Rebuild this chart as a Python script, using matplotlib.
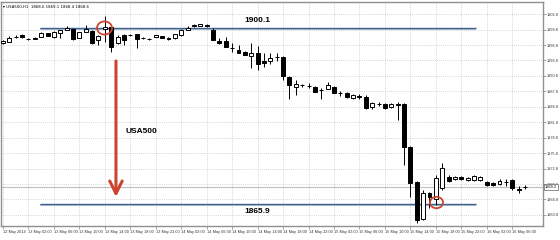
import numpy as np
import matplotlib
matplotlib.use("Agg")
import matplotlib.pyplot as plt
from matplotlib.patches import Ellipse

plt.rcParams['font.family'] = ['Liberation Sans', 'DejaVu Sans']

# hourly candles, USA500 H1, 12 May 22:00 .. 16 May 08:00
opens = [1897.2, 1897.4, 1898.3, 1898.7, 1898.0, 1897.9, 1898.4, 1899.1, 1898.4, 1899.1,
         1899.8, 1900.0, 1898.2, 1899.4, 1899.6, 1897.7, 1900.0, 1900.3, 1897.1, 1898.7,
         1898.7, 1898.9, 1898.1, 1898.0, 1898.4, 1898.5, 1897.9, 1898.1, 1898.7, 1899.8,
         1900.7, 1900.5, 1900.7, 1899.8, 1897.6, 1897.6, 1896.3, 1895.8, 1895.5, 1894.7,
         1895.2, 1893.6, 1893.7, 1894.5, 1894.5, 1890.6, 1888.6, 1889.0, 1888.9, 1888.7,
         1888.1, 1888.2, 1888.7, 1887.4, 1887.5, 1886.5, 1886.9, 1886.8, 1884.7, 1885.3,
         1885.3, 1884.8, 1885.4, 1885.3, 1877.0, 1870.2, 1863.0, 1868.1, 1866.9, 1869.0,
         1871.2, 1870.8, 1871.2, 1870.6, 1870.6, 1870.6, 1870.2, 1870.0, 1869.8, 1870.2,
         1870.6, 1868.6, 1869.2]
highs = [1897.8, 1898.5, 1898.7, 1898.9, 1898.2, 1898.3, 1899.3, 1899.2, 1899.5, 1899.8,
         1900.4, 1900.2, 1899.4, 1900.7, 1899.8, 1898.7, 1902.4, 1900.5, 1898.7, 1898.9,
         1898.9, 1899.0, 1898.3, 1898.1, 1898.8, 1898.6, 1898.3, 1899.0, 1899.9, 1900.5,
         1900.9, 1900.9, 1900.8, 1900.1, 1898.1, 1898.3, 1897.1, 1896.8, 1895.6, 1897.1,
         1896.6, 1895.2, 1895.2, 1895.2, 1894.7, 1890.8, 1890.0, 1889.2, 1889.4, 1888.8,
         1888.5, 1889.7, 1888.8, 1887.9, 1887.6, 1887.2, 1887.2, 1887.0, 1885.7, 1885.7,
         1885.5, 1885.6, 1885.7, 1885.5, 1877.2, 1870.4, 1868.6, 1868.3, 1871.6, 1873.9,
         1871.6, 1871.4, 1871.4, 1871.2, 1871.6, 1871.4, 1870.4, 1870.2, 1870.8, 1870.8,
         1870.8, 1869.4, 1869.6]
lows = [1897.0, 1897.4, 1898.2, 1898.2, 1897.8, 1897.9, 1898.3, 1898.5, 1898.2, 1898.1,
        1899.7, 1897.8, 1898.2, 1899.3, 1897.0, 1896.8, 1897.3, 1895.5, 1897.0, 1896.8,
        1898.5, 1896.2, 1898.0, 1897.8, 1898.3, 1898.1, 1897.8, 1898.0, 1898.6, 1899.8,
        1900.3, 1900.4, 1900.3, 1897.7, 1896.9, 1896.4, 1895.5, 1895.2, 1894.9, 1892.3,
        1891.9, 1892.5, 1893.2, 1893.7, 1890.0, 1886.4, 1887.1, 1888.7, 1888.4, 1887.7,
        1886.3, 1888.2, 1887.4, 1886.9, 1886.5, 1886.3, 1886.4, 1884.3, 1884.4, 1884.9,
        1884.3, 1884.5, 1882.2, 1873.5, 1867.3, 1862.2, 1862.8, 1865.1, 1865.7, 1868.6,
        1870.2, 1870.6, 1870.6, 1870.4, 1870.4, 1870.4, 1869.4, 1869.4, 1869.6, 1869.4,
        1868.6, 1868.1, 1868.8]
closes = [1897.6, 1898.2, 1898.4, 1898.3, 1897.9, 1898.2, 1899.2, 1898.6, 1899.3, 1899.7,
          1900.2, 1897.9, 1899.3, 1899.9, 1897.1, 1898.6, 1900.3, 1896.5, 1898.4, 1897.8,
          1898.7, 1897.9, 1898.2, 1897.9, 1898.7, 1898.1, 1898.2, 1898.9, 1899.7, 1900.2,
          1900.4, 1900.8, 1900.4, 1897.8, 1897.2, 1896.5, 1896.2, 1895.2, 1894.9, 1895.2,
          1893.2, 1893.4, 1894.2, 1894.4, 1890.8, 1889.0, 1889.2, 1889.0, 1888.8, 1887.7,
          1888.0, 1889.0, 1887.4, 1887.5, 1886.7, 1887.0, 1886.8, 1884.6, 1885.5, 1885.3,
          1884.6, 1885.4, 1885.2, 1877.0, 1870.0, 1862.8, 1868.1, 1867.3, 1871.0, 1872.9,
          1870.4, 1871.2, 1870.8, 1871.0, 1871.4, 1871.2, 1869.6, 1869.6, 1870.4, 1870.1,
          1869.0, 1868.8, 1869.2]

time_labels = ["12 May 2014", "13 May 02:00", "13 May 06:00", "13 May 10:00", "13 May 14:00",
               "13 May 18:00", "13 May 22:00", "14 May 02:00", "14 May 06:00", "14 May 10:00",
               "14 May 14:00", "14 May 18:00", "14 May 22:00", "15 May 02:00", "15 May 06:00",
               "15 May 10:00", "15 May 14:00", "15 May 18:00", "15 May 22:00", "16 May 02:00",
               "16 May 06:00"]
price_ticks = [1902.8, 1899.8, 1896.8, 1893.8, 1890.8, 1887.8, 1884.8, 1881.8,
               1878.8, 1875.8, 1872.8, 1869.8, 1866.8, 1863.8]

resistance = 1900.1
support = 1865.9
bid = 1869.2

o = np.array(opens); h = np.array(highs); l = np.array(lows); c = np.array(closes)
idx = np.arange(len(o))

fig = plt.figure(figsize=(5.6, 2.4), dpi=100)
ax = fig.add_axes([1/560, 14/240, 542/560, 224.5/240])
ax.set_xlim(-0.31, 84.83)
ax.set_ylim(1861.65, 1905.25)

# grid
ax.set_yticks(price_ticks)
ax.set_yticklabels([f"{v:.1f}" for v in price_ticks])
ax.set_xticks(idx[::4])
ax.set_xticklabels(time_labels, ha='left')
ax.grid(True, color='#c8c8c8', linestyle=(0, (1, 1.5)), linewidth=0.6)
ax.set_axisbelow(True)
ax.yaxis.tick_right()
ax.tick_params(axis='both', labelsize=2.8, length=2, width=0.5, pad=1, color='#808080',
               labelcolor='#333333')
for s in ax.spines.values():
    s.set_color('#909090')
    s.set_linewidth(1.0)

# current bid line
ax.axhline(bid, color='#c0c0c0', lw=0.8, zorder=1)
ax.text(1.003, bid, f"{bid:.1f}", transform=ax.get_yaxis_transform(), fontsize=2.8,
        va='center', ha='left',
        bbox=dict(boxstyle='square,pad=0.25', fc='white', ec='#606060', lw=0.5))

# candles
w = 0.62
ax.vlines(idx, l, h, color='black', lw=0.7, zorder=3)
up = c >= o
bodies = np.maximum(np.abs(c - o), 0.04)
ax.bar(idx[up], bodies[up], bottom=np.minimum(o, c)[up], width=w,
       color='white', edgecolor='black', linewidth=0.7, zorder=4)
ax.bar(idx[~up], bodies[~up], bottom=np.minimum(o, c)[~up], width=w,
       color='black', edgecolor='black', linewidth=0.7, zorder=4)

# support / resistance lines
for lvl in (resistance, support):
    ax.hlines(lvl - 0.12, 5.8, 74.3, color='#b4c0cf', lw=1.4, zorder=2)
    ax.hlines(lvl, 5.8, 74.3, color='#3c6391', lw=1.0, zorder=2)
ax.text(39.9, 1901.5, f"{resistance:.1f}", fontsize=6, fontweight='bold', ha='center', va='center')
ax.text(39.9, 1864.5, f"{support:.1f}", fontsize=6, fontweight='bold', ha='center', va='center')

# arrow and label
red = '#cc4430'
ax.annotate('', xy=(17.75, 1867.3), xytext=(17.75, 1893.7),
            arrowprops=dict(arrowstyle='->,head_length=0.9,head_width=0.45',
                            color=red, lw=2.2, mutation_scale=10, shrinkA=0, shrinkB=0))
ax.text(19.2, 1880.0, "USA500", fontsize=6, fontweight='bold', ha='left', va='center')

# circles
ax.add_patch(Ellipse((15.95, 1900.1), 2.36, 2.55, fill=False, ec=red, lw=1.3, zorder=6))
ax.add_patch(Ellipse((68.1, 1866.2), 2.05, 2.2, fill=False, ec=red, lw=1.3, zorder=6))

# header
ax.text(0.004, 0.985, "\u25be USA500,H1  1868.6 1869.1 1868.4 1868.6", transform=ax.transAxes,
        fontsize=2.8, ha='left', va='top', family=['DejaVu Sans'])

fig.savefig('out.png', dpi=100)
